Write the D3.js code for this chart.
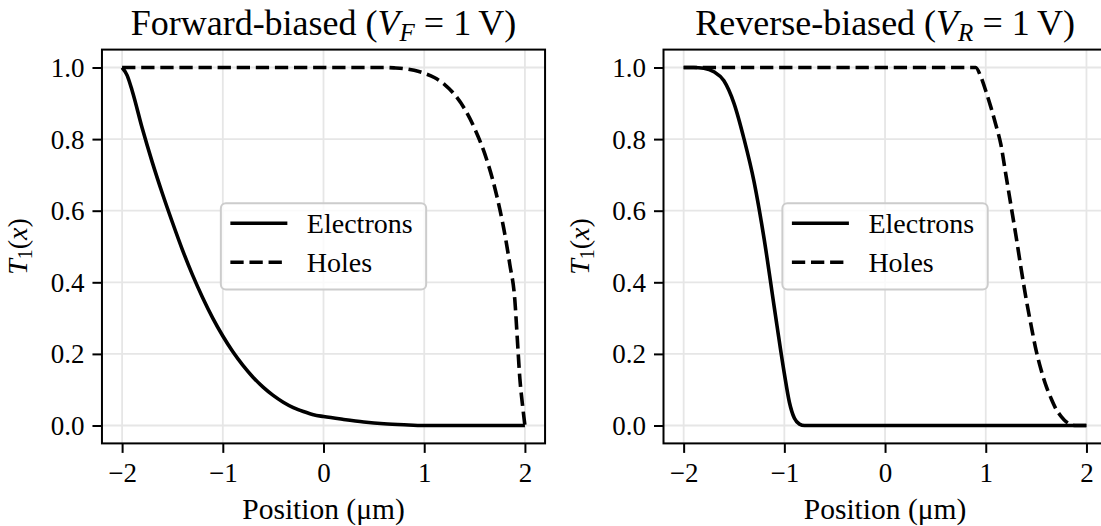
<!DOCTYPE html>
<html>
<head>
<meta charset="utf-8">
<script src="https://cdn.jsdelivr.net/npm/d3@7"></script>
<style>
  html, body { margin: 0; padding: 0; background: #fff; }
  svg { display: block; }
  text { font-family: "Liberation Serif", "Times New Roman", serif; fill: #000; }
</style>
</head>
<body>
<svg id="chart" width="1101" height="526"></svg>
<script>
// Transmission T1(x) across the junction, sampled along position (µm)

// Forward-biased panel
const fwdElectronX = [-2.0, -1.95, -1.9, -1.8, -1.7, -1.6, -1.5, -1.4, -1.3, -1.2, -1.1, -1.0, -0.9, -0.8, -0.7, -0.6, -0.5, -0.4, -0.3, -0.2, -0.1, 0.0, 0.2, 0.4, 0.6, 0.8, 1.0, 1.5, 2.0];
const fwdElectronT = [1.0, 0.978, 0.935, 0.83, 0.735, 0.648, 0.567, 0.49, 0.42, 0.357, 0.30, 0.25, 0.206, 0.168, 0.135, 0.107, 0.084, 0.065, 0.050, 0.039, 0.030, 0.025, 0.017, 0.010, 0.005, 0.002, 0.0, 0.0, 0.0];
const fwdHoleX = [-2.0, -1.0, 0.0, 0.6, 0.7, 0.8, 0.9, 1.0, 1.1, 1.2, 1.3, 1.4, 1.5, 1.6, 1.7, 1.75, 1.8, 1.85, 1.9, 1.925, 1.95, 1.975, 2.0];
const fwdHoleT = [1.0, 1.0, 1.0, 1.0, 0.999, 0.997, 0.992, 0.984, 0.972, 0.953, 0.925, 0.885, 0.83, 0.76, 0.665, 0.605, 0.535, 0.45, 0.35, 0.24, 0.13, 0.06, 0.0];

// Reverse-biased panel
const revElectronX = [-2.0, -1.9, -1.8, -1.7, -1.6, -1.5, -1.4, -1.3, -1.2, -1.1, -1.0, -0.95, -0.9, -0.85, -0.8, 0.0, 1.0, 2.0];
const revElectronT = [1.0, 1.0, 0.998, 0.988, 0.963, 0.90, 0.80, 0.68, 0.52, 0.33, 0.145, 0.065, 0.02, 0.004, 0.0, 0.0, 0.0, 0.0];
const revHoleX = [-2.0, -1.0, 0.0, 0.9, 0.95, 1.0, 1.05, 1.1, 1.15, 1.2, 1.25, 1.3, 1.35, 1.4, 1.45, 1.5, 1.55, 1.6, 1.65, 1.7, 1.75, 1.8, 1.85, 1.9, 2.0];
const revHoleT = [1.0, 1.0, 1.0, 1.0, 0.975, 0.935, 0.89, 0.84, 0.785, 0.70, 0.615, 0.53, 0.44, 0.355, 0.28, 0.21, 0.155, 0.11, 0.075, 0.045, 0.025, 0.01, 0.002, 0.0, 0.0];

const xTicks = [-2, -1, 0, 1, 2];
const yTicks = [0.0, 0.2, 0.4, 0.6, 0.8, 1.0];
const seriesNames = ["Electrons", "Holes"];
const panelTitles = [
  { lead: "Forward-biased (", sym: "V", sub: "F", tail: " = 1\u2009V)" },
  { lead: "Reverse-biased (", sym: "V", sub: "R", tail: " = 1\u2009V)" }
];
const xLabel = "Position (\u03bcm)";

const panels = [
  { title: panelTitles[0], left: 101.96, electrons: [fwdElectronX, fwdElectronT], holes: [fwdHoleX, fwdHoleT] },
  { title: panelTitles[1], left: 663.5, electrons: [revElectronX, revElectronT], holes: [revHoleX, revHoleT] }
];

const svg = d3.select("#chart");
const plotW = 443.1, plotTop = 49.6, plotBottom = 443.4;
const lineW = 3.6;
const dash = "13.3,5.8";

panels.forEach(p => {
  const x = d3.scaleLinear().domain([-2.2, 2.2]).range([p.left, p.left + plotW]);
  const y = d3.scaleLinear().domain([-0.05, 1.05]).range([plotBottom, plotTop]);
  const g = svg.append("g");

  // grid
  g.append("g").selectAll("line").data(xTicks).join("line")
    .attr("x1", d => x(d)).attr("x2", d => x(d)).attr("y1", plotTop).attr("y2", plotBottom)
    .attr("stroke", "#e6e6e6").attr("stroke-width", 1.8);
  g.append("g").selectAll("line").data(yTicks).join("line")
    .attr("y1", d => y(d)).attr("y2", d => y(d)).attr("x1", p.left).attr("x2", p.left + plotW)
    .attr("stroke", "#e6e6e6").attr("stroke-width", 1.8);

  // curves
  const line = d3.line().x(d => x(d[0])).y(d => y(d[1])).curve(d3.curveMonotoneX);
  const pts = ([xs, ts]) => xs.map((v, i) => [v, ts[i]]);
  g.append("path").datum(pts(p.holes)).attr("d", line)
    .attr("fill", "none").attr("stroke", "#000").attr("stroke-width", lineW)
    .attr("stroke-dasharray", dash).attr("stroke-linejoin", "round");
  g.append("path").datum(pts(p.electrons)).attr("d", line)
    .attr("fill", "none").attr("stroke", "#000").attr("stroke-width", lineW)
    .attr("stroke-linejoin", "round");

  // axes
  const xAxis = d3.axisBottom(x).tickValues(xTicks).tickSize(9.5).tickPadding(8)
    .tickFormat(d => d < 0 ? "\u2212" + Math.abs(d) : String(d));
  const yAxis = d3.axisLeft(y).tickValues(yTicks).tickSize(9.5).tickPadding(8)
    .tickFormat(d3.format(".1f"));
  const gx = g.append("g").attr("transform", `translate(0,${plotBottom})`).call(xAxis);
  const gy = g.append("g").attr("transform", `translate(${p.left},0)`).call(yAxis);
  [gx, gy].forEach(a => {
    a.select(".domain").remove();
    a.selectAll(".tick line").attr("stroke", "#000").attr("stroke-width", 2);
    a.selectAll(".tick text").attr("font-family", "Liberation Serif").attr("font-size", 27).attr("fill", "#000");
  });
  gx.selectAll(".tick text").attr("dy", null).attr("y", 39);
  gy.selectAll(".tick text").attr("dy", "0.33em");

  // frame
  g.append("rect").attr("x", p.left).attr("y", plotTop).attr("width", plotW).attr("height", plotBottom - plotTop)
    .attr("fill", "none").attr("stroke", "#000").attr("stroke-width", 2);

  // title
  const cx = p.left + plotW / 2;
  const t = g.append("text").attr("x", cx).attr("y", 35).attr("text-anchor", "middle").attr("font-size", 36);
  t.append("tspan").text(p.title.lead);
  t.append("tspan").attr("font-style", "italic").text(p.title.sym);
  t.append("tspan").attr("font-style", "italic").attr("font-size", 25).attr("dy", 6).text(p.title.sub);
  t.append("tspan").attr("dy", -6).text(p.title.tail);

  // axis labels
  g.append("text").attr("x", cx).attr("y", 519).attr("text-anchor", "middle").attr("font-size", 29.5).text(xLabel);
  const yl = g.append("text").attr("transform", `translate(${p.left - 75},${(plotTop + plotBottom) / 2}) rotate(-90)`)
    .attr("text-anchor", "middle").attr("font-size", 28);
  yl.append("tspan").attr("font-style", "italic").text("T");
  yl.append("tspan").attr("font-size", 20).attr("dy", 5).text("1");
  yl.append("tspan").attr("dy", -5).text("(");
  yl.append("tspan").attr("font-style", "italic").text("x");
  yl.append("tspan").text(")");

  // legend
  const lx = p.left + 118.9, ly = 203.3;
  const lg = g.append("g");
  lg.append("rect").attr("x", lx).attr("y", ly).attr("width", 205.3).attr("height", 86.3).attr("rx", 5)
    .attr("fill", "#fff").attr("fill-opacity", 0.8).attr("stroke", "#cccccc").attr("stroke-width", 2);
  seriesNames.forEach((name, i) => {
    const yy = ly + 20 + i * 39;
    lg.append("line").attr("x1", lx + 9.5).attr("x2", lx + 66.5).attr("y1", yy).attr("y2", yy)
      .attr("stroke", "#000").attr("stroke-width", lineW)
      .attr("stroke-dasharray", i === 1 ? dash : null);
    lg.append("text").attr("x", lx + 86).attr("y", yy + 9.8).attr("font-size", 28).text(name);
  });
});
</script>
</body>
</html>
